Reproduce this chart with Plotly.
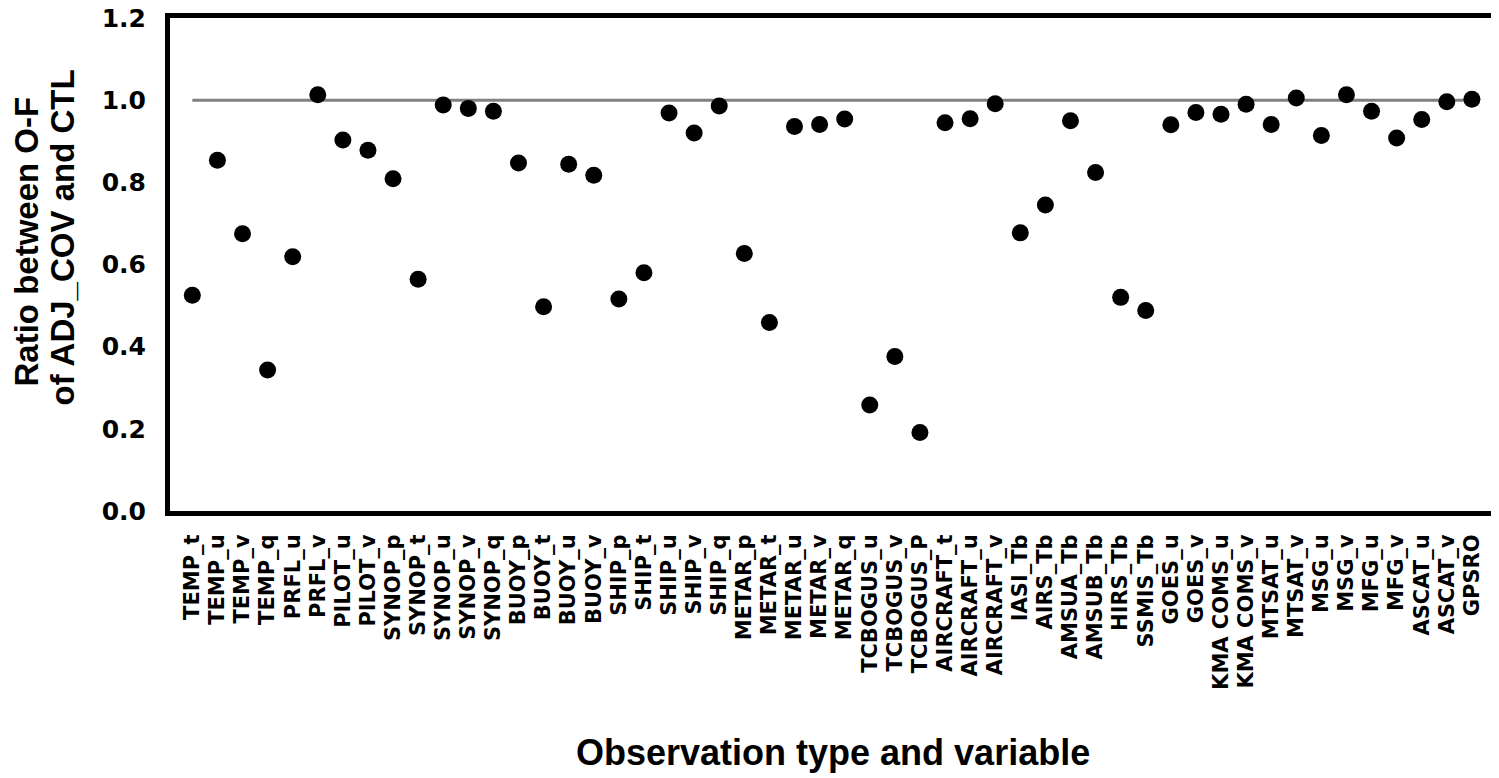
import plotly.graph_objects as go

# observation type / variable, left to right
categories = [
    "TEMP_t", "TEMP_u", "TEMP_v", "TEMP_q", "PRFL_u", "PRFL_v",
    "PILOT_u", "PILOT_v", "SYNOP_p", "SYNOP_t", "SYNOP_u", "SYNOP_v", "SYNOP_q",
    "BUOY_p", "BUOY_t", "BUOY_u", "BUOY_v",
    "SHIP_p", "SHIP_t", "SHIP_u", "SHIP_v", "SHIP_q",
    "METAR_p", "METAR_t", "METAR_u", "METAR_v", "METAR_q",
    "TCBOGUS_u", "TCBOGUS_v", "TCBOGUS_P",
    "AIRCRAFT_t", "AIRCRAFT_u", "AIRCRAFT_v",
    "IASI_Tb", "AIRS_Tb", "AMSUA_Tb", "AMSUB_Tb", "HIRS_Tb", "SSMIS_Tb",
    "GOES_u", "GOES_v", "KMA COMS_u", "KMA COMS_v", "MTSAT_u", "MTSAT_v",
    "MSG_u", "MSG_v", "MFG_u", "MFG_v", "ASCAT_u", "ASCAT_v", "GPSRO",
]

# ratio of O-F between ADJ_COV and CTL
ratio = [
    0.525, 0.854, 0.675, 0.343, 0.619, 1.013,
    0.903, 0.878, 0.809, 0.564, 0.988, 0.980, 0.973,
    0.847, 0.497, 0.844, 0.817,
    0.516, 0.580, 0.969, 0.920, 0.986,
    0.627, 0.459, 0.936, 0.941, 0.954,
    0.258, 0.376, 0.191,
    0.945, 0.955, 0.991,
    0.677, 0.745, 0.950, 0.824, 0.520, 0.488,
    0.940, 0.970, 0.966, 0.990, 0.941, 1.005,
    0.914, 1.013, 0.973, 0.908, 0.953, 0.996, 1.002,
]

reference = [1.0] * len(categories)
y_ticks = [0.0, 0.2, 0.4, 0.6, 0.8, 1.0, 1.2]

idx = list(range(len(categories)))

fig = go.Figure()
fig.add_trace(
    go.Scatter(
        x=idx,
        y=reference,
        mode="lines",
        line=dict(color="#808080", width=3),
        hoverinfo="skip",
        showlegend=False,
    )
)
fig.add_trace(
    go.Scatter(
        x=idx,
        y=ratio,
        mode="markers",
        marker=dict(color="black", size=17),
        text=categories,
        hovertemplate="%{text}: %{y:.3f}<extra></extra>",
        showlegend=False,
    )
)

title_font = dict(family="Liberation Sans", size=36, color="black")
ytitle_font = dict(family="Liberation Sans", size=33, color="black")

fig.update_xaxes(
    range=[-0.89, 51.96],
    tickmode="array",
    tickvals=idx,
    ticktext=[f"<b>{c}</b>" for c in categories],
    tickangle=-90,
    tickfont=dict(family="DejaVu Sans", size=21, color="black"),
    ticks="outside",
    ticklen=10,
    tickcolor="rgba(0,0,0,0)",
    showgrid=False,
    zeroline=False,
    showline=True,
    linecolor="black",
    linewidth=5,
    mirror=True,
    automargin=False,
)
fig.update_yaxes(
    range=[0, 1.2],
    tickmode="array",
    tickvals=y_ticks,
    ticktext=[f"<b>{v:.1f}</b>" for v in y_ticks],
    tickfont=dict(family="DejaVu Sans", size=25, color="black"),
    ticklabeloverflow="allow",
    ticks="outside",
    ticklen=14,
    tickcolor="rgba(0,0,0,0)",
    showgrid=False,
    zeroline=False,
    showline=True,
    linecolor="black",
    linewidth=5,
    mirror=True,
    automargin=False,
)

# axis titles as annotations so the two y-title lines sit close together
fig.add_annotation(
    text="<b>Observation type and variable</b>",
    xref="paper", yref="paper",
    x=0.5, y=0, yanchor="middle",
    yshift=-(752 - 511),
    showarrow=False,
    font=title_font,
)
fig.add_annotation(
    text="<b>Ratio between O-F</b>",
    xref="paper", yref="paper",
    x=0, y=0.5, xanchor="center", yanchor="middle",
    xshift=-144, yshift=263 - 240,
    textangle=-90,
    showarrow=False,
    font=ytitle_font,
)
fig.add_annotation(
    text="<b>of ADJ_COV and CTL</b>",
    xref="paper", yref="paper",
    x=0, y=0.5, xanchor="center", yanchor="middle",
    xshift=-108, yshift=263 - 236,
    textangle=-90,
    showarrow=False,
    font=ytitle_font,
)

fig.update_layout(
    width=1491,
    height=770,
    margin=dict(l=162, r=3, t=10, b=267),
    plot_bgcolor="white",
    paper_bgcolor="white",
)

fig.write_html("out.html")
